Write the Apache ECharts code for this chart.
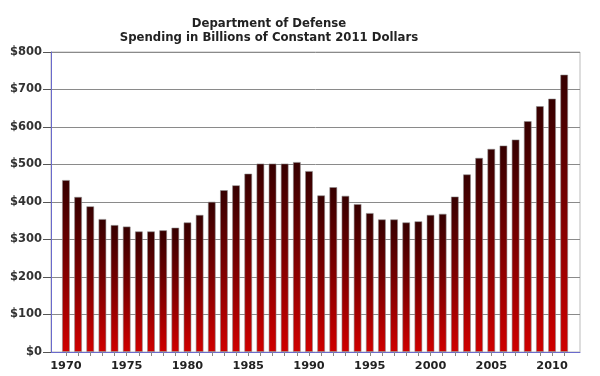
<!DOCTYPE html>
<html>
<head>
<meta charset="utf-8">
<script src="https://cdn.jsdelivr.net/npm/echarts@6/dist/echarts.min.js"></script>
<style>
  html, body { margin: 0; padding: 0; background: #fff; }
  #chart { width: 600px; height: 376px; }
</style>
</head>
<body>
<div id="chart"></div>
<script>
// fiscal years shown on the x axis
const years = [];
for (let y = 1970; y <= 2011; y++) years.push(y);

// spending, billions of constant 2011 dollars
const spending = [
  459, 414, 389, 355, 339, 335, 322, 322, 325, 332,
  346, 366, 401, 432, 445, 476, 503, 503, 503, 507,
  483, 418, 440, 417, 395, 371, 354, 354, 346, 349,
  366, 369, 415, 474, 518, 542, 551, 567, 616, 656,
  676, 740
];

const yearLabels = [1970, 1975, 1980, 1985, 1990, 1995, 2000, 2005, 2010];

const chart = echarts.init(document.getElementById("chart"), null, { renderer: "canvas" });

const font = "DejaVu Sans, Verdana, sans-serif";

const option = {
  animation: false,
  backgroundColor: "#fff",
  title: {
    text: "Department of Defense\nSpending in Billions of Constant 2011 Dollars",
    left: 264,
    textAlign: "center",
    top: 12,
    textStyle: {
      fontFamily: font,
      fontSize: 11.7,
      fontWeight: "bold",
      color: "#222",
      lineHeight: 14,
    },
  },
  grid: {
    left: 51,
    right: 20,
    top: 52,
    bottom: 24,
    show: true,
    borderColor: "#bbb",
    borderWidth: 1,
  },
  xAxis: {
    type: "value",
    min: 1968.77,
    max: 2012.3,
    splitLine: { show: false },
    axisLine: { show: true, lineStyle: { color: "#6a6acc", width: 1 } },
    axisTick: {
      show: true,
      customValues: years,
      length: 4,
      lineStyle: { color: "#888" },
    },
    axisLabel: {
      customValues: yearLabels,
      fontFamily: font,
      fontSize: 11.3,
      fontWeight: "bold",
      color: "#222",
      margin: 9,
      formatter: (v) => String(v),
    },
  },
  yAxis: {
    type: "value",
    min: 0,
    max: 800,
    interval: 100,
    axisLine: { show: true, lineStyle: { color: "#6a6acc", width: 1 } },
    axisTick: { show: true, length: 8, lineStyle: { color: "#555" } },
    axisLabel: {
      fontFamily: font,
      fontSize: 11.5,
      fontWeight: "bold",
      color: "#333",
      margin: 9,
      formatter: (v) => "$" + v,
    },
    splitLine: { show: true, lineStyle: { color: "#8a8a8a", width: 1 } },
  },
  series: [
    {
      type: "bar",
      data: years.map((y, i) => [y, spending[i]]),
      barWidth: 8,
      itemStyle: {
        color: new echarts.graphic.LinearGradient(0, 0, 0, 1, [
          { offset: 0, color: "#360000" },
          { offset: 0.45, color: "#760000" },
          { offset: 1, color: "#d00000" },
        ]),
        borderColor: "rgba(140,140,140,0.55)",
        borderWidth: 1,
      },
    },
  ],
};

chart.setOption(option);
</script>
</body>
</html>
